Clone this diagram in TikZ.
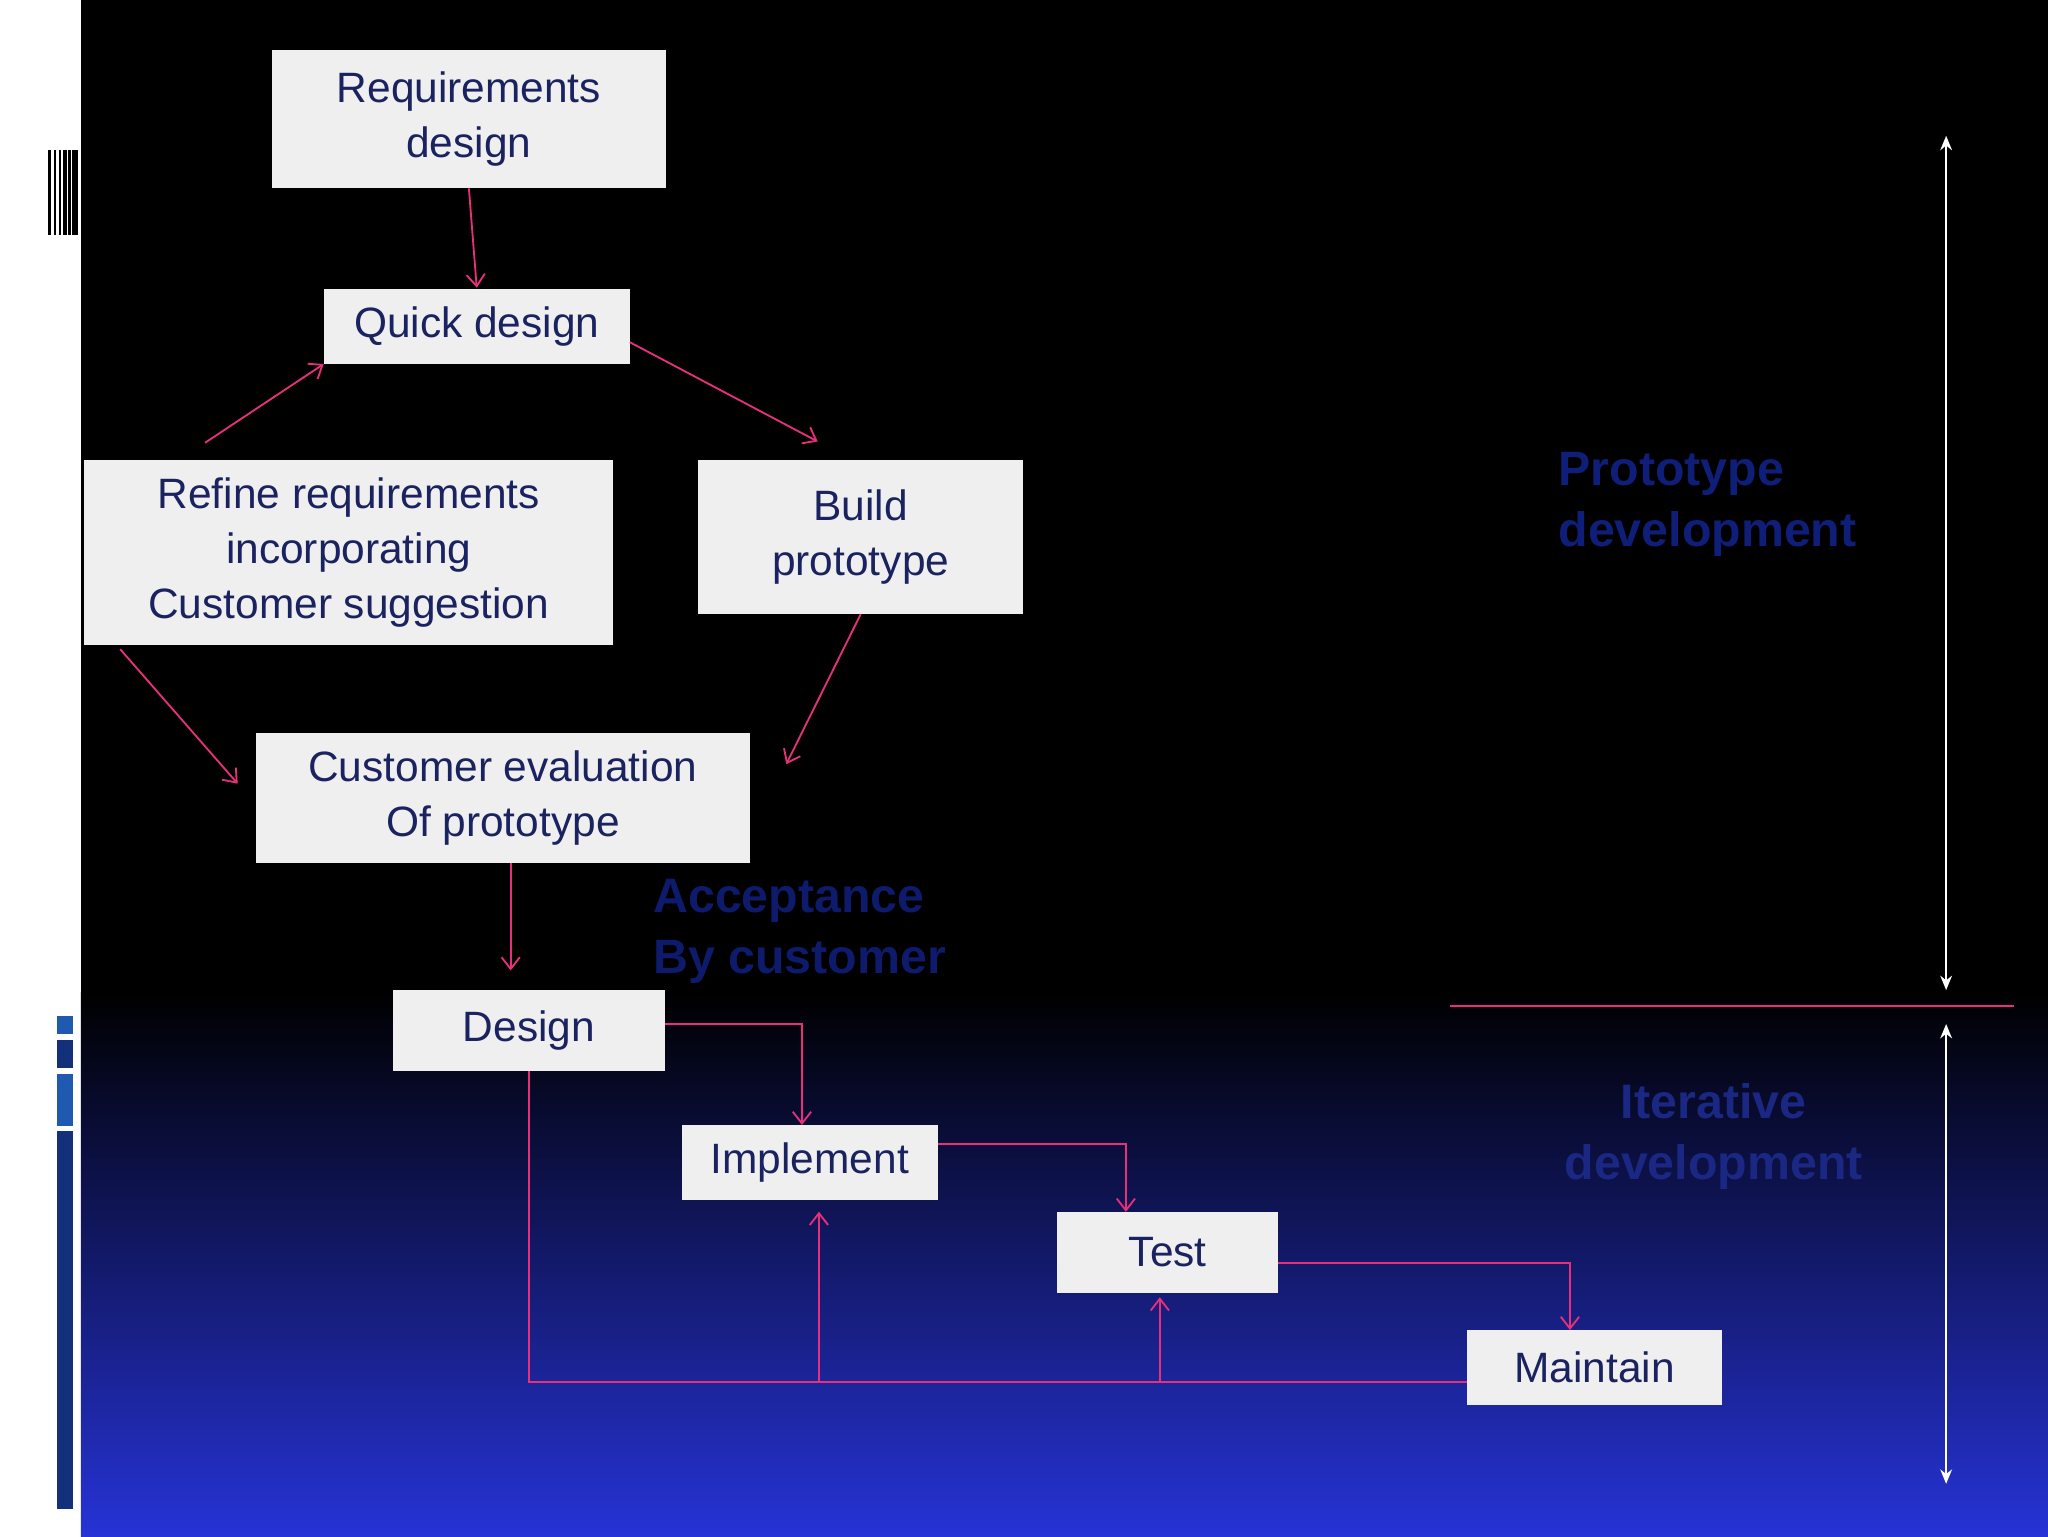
\documentclass[tikz,border=0pt]{standalone}
\usepackage{fontspec}
\setmainfont{Liberation Sans}
\usetikzlibrary{arrows.meta}
\definecolor{boxfill}{HTML}{EFEFEF}
\definecolor{navy}{HTML}{1A2360}
\definecolor{pinkc}{HTML}{E8307A}
\definecolor{bluebot}{HTML}{2633D6}
\definecolor{lbl}{HTML}{0F1E78}
\definecolor{itlbl}{HTML}{1A2884}
\definecolor{barb}{HTML}{14307A}
\definecolor{barl}{HTML}{1F5AB0}
\begin{document}
\begin{tikzpicture}[x=1pt,y=-1pt,
  box/.style={fill=boxfill,draw=none,text=navy,align=center,inner sep=0pt,font=\fontsize{32.5}{42}\selectfont},
  con/.style={draw=pinkc,line width=1.4pt,-{Straight Barb[length=9pt,width=14pt]}},
  lin/.style={draw=pinkc,line width=1.4pt},
  big/.style={font=\bfseries\fontsize{37}{47}\selectfont,align=left,anchor=north west,inner sep=0pt}]
\useasboundingbox (0,0) rectangle (1568,1176);
\fill[white] (0,0) rectangle (62,1176);
\fill[black] (62,0) rectangle (1568,780);
\shade[top color=black,bottom color=bluebot] (62,760) rectangle (1568,1176);
% left decorations
\foreach \x/\w in {37/2,41/2,45/1.5,48/3,52/2,55/5} \fill[black] (\x,115) rectangle (\x+\w,180);
\fill[barl] (44,778) rectangle (56,792);
\fill[barb] (44,796) rectangle (56,818);
\fill[barl] (44,822) rectangle (56,862);
\fill[barb] (44,866) rectangle (56,1155);
% nodes
\node[box,minimum width=302,minimum height=106] (req) at (359,91) {Requirements\\design};
\node[box,minimum width=234,minimum height=57] (quick) at (365,250) {Quick design};
\node[box,minimum width=405,minimum height=142] (refine) at (267,423) {Refine requirements\\incorporating\\Customer suggestion};
\node[box,minimum width=249,minimum height=118] (build) at (659,411) {Build\\prototype};
\node[box,minimum width=378,minimum height=99] (eval) at (385,611) {Customer evaluation\\Of prototype};
\node[box,minimum width=208,minimum height=62] (design) at (405,789) {Design};
\node[box,minimum width=196,minimum height=57] (impl) at (620,890) {Implement};
\node[box,minimum width=169,minimum height=62] (test) at (894,959) {Test};
\node[box,minimum width=195,minimum height=57] (maint) at (1221,1047) {Maintain};
% coordinates
\coordinate (a1) at (157,339);
\coordinate (a2) at (626,338);
\coordinate (a3) at (602,585);
\coordinate (a4) at (92,497);
\coordinate (a5) at (182,600);
\coordinate (a6) at (391,743);
\coordinate (fb) at (405,1058);
\coordinate (fi) at (627,1058);
\coordinate (ft) at (888,1058);
% connectors
\draw[con] (req.south) -- ++(6,76);
\draw[con] (a1) -- (quick.south west);
\draw[con] ([yshift=-12pt]quick.east) -- (a2);
\draw[con] (build.south) -- (a3);
\draw[con] (a4) -- (a5);
\draw[con] ([xshift=6pt]eval.south) -- (a6);
\draw[con] ([yshift=5pt]design.east) -| ([xshift=-6pt]impl.north);
\draw[con] ([yshift=14pt]impl.east) -| ([xshift=-32pt]test.north);
\draw[con] ([yshift=-8pt]test.east) -| ([xshift=-19pt]maint.north);
\draw[lin] ([yshift=-11pt]maint.west) -- (fb) -- (design.south);
\draw[con] (fi) -- ([xshift=7pt,yshift=-9pt]impl.south);
\draw[con] (ft) -- ([xshift=-6pt,yshift=-3pt]test.south);
% labels
\node[big,text=lbl!90!black] (acc) at (500,673) {Acceptance\\By customer};
\node[big,text=lbl] (proto) at (1193,346) {Prototype\\development};
\node[big,text=itlbl,align=center,anchor=north] (iter) at (1312,829) {Iterative\\development};
% right markers
\coordinate (l1) at (1110,770); \coordinate (l2) at (1542,770);
\draw[pinkc,line width=1.4pt] (l1) -- (l2);
\coordinate (w1) at (1490,104); \coordinate (w2) at (1490,758);
\coordinate (w3) at (1490,784); \coordinate (w4) at (1490,1136);
\draw[white,line width=1.5pt,{Stealth[length=11pt,width=9pt]}-{Stealth[length=11pt,width=9pt]}] (w1) -- (w2);
\draw[white,line width=1.5pt,{Stealth[length=11pt,width=9pt]}-{Stealth[length=11pt,width=9pt]}] (w3) -- (w4);
\end{tikzpicture}
\end{document}
